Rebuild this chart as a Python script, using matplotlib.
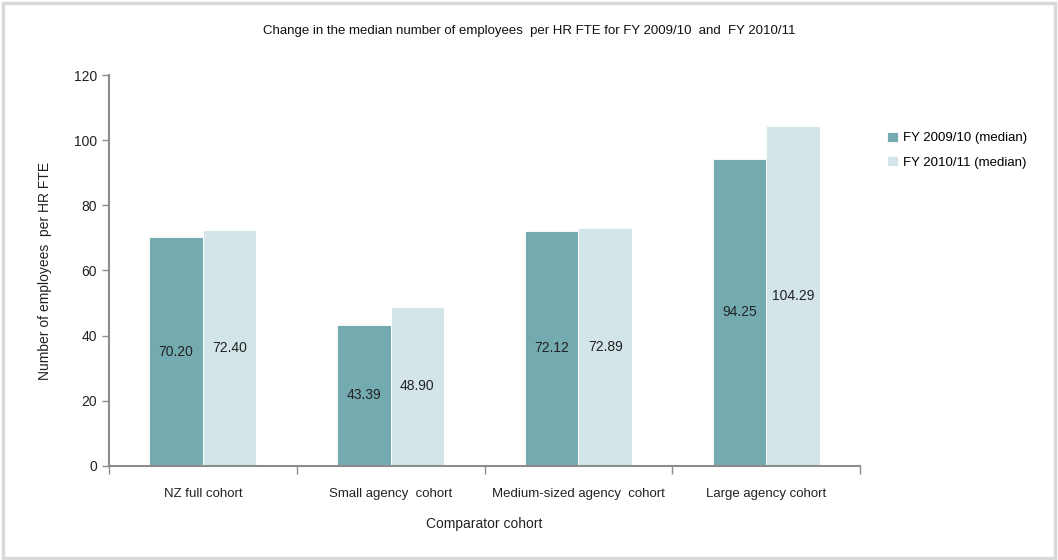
import numpy as np
import matplotlib
matplotlib.use("Agg")
import matplotlib.pyplot as plt
from matplotlib.patches import Rectangle

matplotlib.rcParams['font.family'] = ['Liberation Sans Narrow', 'Liberation Sans', 'DejaVu Sans']

categories = ['NZ full cohort', 'Small agency  cohort', 'Medium-sized agency  cohort', 'Large agency cohort']
fy0910 = [70.20, 43.39, 72.12, 94.25]
fy1011 = [72.40, 48.90, 72.89, 104.29]
series_names = ['FY 2009/10 (median)', 'FY 2010/11 (median)']

c1 = '#74abb0'
c2 = '#d3e5e8'
axis_col = '#8c8c8c'
fs = 9.5

fig = plt.figure(figsize=(10.58, 5.6), dpi=100)
ax = fig.add_axes([0.103, 0.168, 0.71, 0.698])

x = np.arange(len(categories))
w = 0.285
b1 = ax.bar(x - w / 2, fy0910, w, color=c1, label=series_names[0], edgecolor='white', linewidth=0.6)
b2 = ax.bar(x + w / 2, fy1011, w, color=c2, label=series_names[1], edgecolor='white', linewidth=0.6)

for bars, vals in ((b1, fy0910), (b2, fy1011)):
    for r, v in zip(bars, vals):
        ax.text(r.get_x() + r.get_width() / 2, v / 2, '%.2f' % v,
                ha='center', va='center', fontsize=fs + 0.5, color='#222222')

ax.set_xlim(-0.5, len(categories) - 0.5)
ax.set_ylim(0, 120)
ax.set_yticks(range(0, 121, 20))
ax.set_xticks(x)
ax.set_xticklabels(categories, fontsize=fs, color='#222222')
ax.set_xticks(np.arange(-0.5, len(categories)), minor=True)
ax.tick_params(axis='x', which='major', length=0, pad=16)
ax.tick_params(axis='x', which='minor', length=6, color=axis_col, width=1)
ax.tick_params(axis='y', length=5, color=axis_col, width=1, labelsize=fs + 0.5, labelcolor='#222222')

for s in ('top', 'right'):
    ax.spines[s].set_visible(False)
for s in ('left', 'bottom'):
    ax.spines[s].set_color(axis_col)
    ax.spines[s].set_linewidth(1.5)

ax.set_xlabel('Comparator cohort', fontsize=fs + 0.5, color='#222222', labelpad=12)
ax.set_ylabel('Number of employees  per HR FTE', fontsize=fs + 0.5, color='#222222', labelpad=16)
fig.text(0.5, 0.945, 'Change in the median number of employees  per HR FTE for FY 2009/10  and  FY 2010/11',
         ha='center', va='center', fontsize=fs, color='#111111')

ax.legend(loc='upper left', bbox_to_anchor=(1.02, 0.885), frameon=False, fontsize=fs,
          handlelength=0.8, handleheight=0.8, handletextpad=0.4, labelspacing=0.9)

fig.patches.append(Rectangle((0.003, 0.003), 0.994, 0.992, transform=fig.transFigure,
                             fill=False, edgecolor='#d9d9d9', linewidth=2.5))

fig.savefig('out.png', dpi=100)
